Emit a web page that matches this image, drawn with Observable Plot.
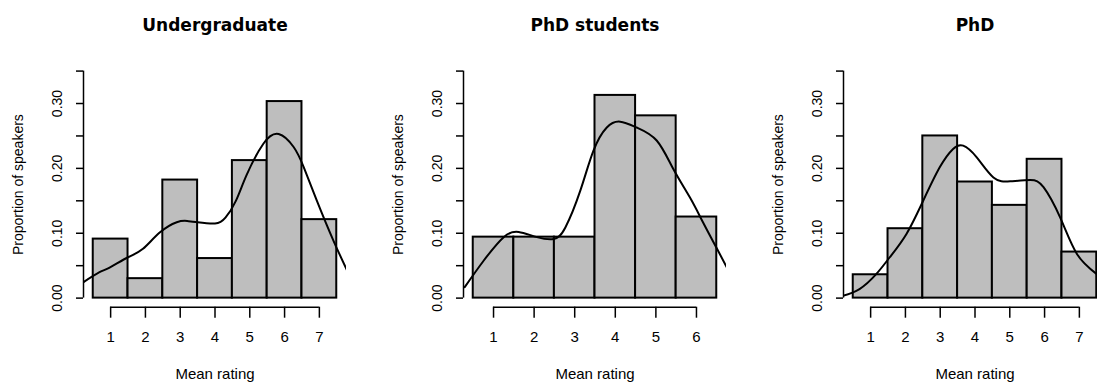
<!DOCTYPE html>
<html><head><meta charset="utf-8">
<script src="https://cdn.jsdelivr.net/npm/d3@7"></script>
<script src="https://cdn.jsdelivr.net/npm/@observablehq/plot@0.6"></script>
<style>
body{margin:0;background:#fff;}
#row{width:1097px;height:383px;overflow:hidden;display:flex;}
#row > div{flex:none;width:380px;height:383px;}
</style></head><body><div id="row"></div>
<script>
// ---- data ----
const titles = ["Undergraduate", "PhD students", "PhD"];

const ratingsUG = [1, 2, 3, 4, 5, 6, 7];
const propsUG = [0.091, 0.030, 0.182, 0.061, 0.212, 0.303, 0.121];
const densXUG = [0.20, 0.68, 0.97, 1.5, 1.93, 2.41, 2.9, 3.2, 3.5, 4.0, 4.3, 4.6, 4.91, 5.39, 5.83, 6.26, 6.55, 6.93, 7.41, 7.82];
const densYUG = [0.024, 0.040, 0.047, 0.063, 0.076, 0.101, 0.117, 0.119, 0.117, 0.115, 0.124, 0.150, 0.190, 0.238, 0.253, 0.233, 0.202, 0.150, 0.088, 0.040];

const ratingsPS = [1, 2, 3, 4, 5, 6];
const propsPS = [0.094, 0.094, 0.094, 0.3125, 0.281, 0.125];
const densXPS = [0.29, 0.76, 1.25, 1.62, 2.07, 2.48, 2.77, 3.14, 3.46, 3.79, 4.12, 4.53, 5.02, 5.43, 5.84, 6.16, 6.49, 6.76];
const densYPS = [0.017, 0.058, 0.094, 0.102, 0.094, 0.091, 0.109, 0.166, 0.227, 0.263, 0.272, 0.263, 0.243, 0.199, 0.155, 0.117, 0.078, 0.046];

const ratingsPhD = [1, 2, 3, 4, 5, 6, 7];
const propsPhD = [0.036, 0.107, 0.250, 0.179, 0.143, 0.214, 0.071];
const densXPhD = [0.2, 0.68, 1.16, 1.55, 2.03, 2.51, 2.99, 3.37, 3.66, 4.05, 4.53, 5.01, 5.59, 5.97, 6.45, 6.93, 7.5];
const densYPhD = [0.0035, 0.014, 0.037, 0.063, 0.099, 0.150, 0.202, 0.230, 0.235, 0.217, 0.186, 0.180, 0.182, 0.171, 0.124, 0.068, 0.037];

const yTicks = [0, 0.05, 0.10, 0.15, 0.20, 0.25, 0.30, 0.35];
const xLabel = "Mean rating";
const yLabel = "Proportion of speakers";

// ---- drawing ----
const FONT = "'Liberation Sans', Arial, sans-serif";

function panel(title, ratings, props, dxs, dys) {
  const bars = ratings.map((r, i) => ({x1: r - 0.5, x2: r + 0.5, y: props[i]}));
  const dens = dxs.map((x, i) => ({x, y: dys[i]}));
  const lo = ratings[0] - 0.5, hi = ratings[ratings.length - 1] + 0.5;
  const xPad = (hi - lo) * 0.04;
  const yLo = yTicks[0], yHi = yTicks[yTicks.length - 1];
  const yPad = (yHi - yLo) * 0.04;
  return Plot.plot({
    width: 380, height: 383,
    marginLeft: 83, marginRight: 34, marginTop: 61.5, marginBottom: 76.3,
    x: {domain: [lo - xPad, hi + xPad]},
    y: {domain: [yLo - yPad, yHi + yPad]},
    style: {fontFamily: FONT, background: "white", color: "black", overflow: "visible"},
    marks: [
      Plot.rectY(bars, {x1: "x1", x2: "x2", y: "y", fill: "#bebebe", stroke: "black", strokeWidth: 2}),
      Plot.line(dens, {x: "x", y: "y", curve: "natural", stroke: "black", strokeWidth: 2, clip: true}),
      Plot.ruleY([{y: yLo - yPad, x1: ratings[0], x2: ratings[ratings.length - 1]}], {y: "y", x1: "x1", x2: "x2", stroke: "black", strokeWidth: 1.5}),
      Plot.ruleX([{x: lo - xPad, y1: yLo, y2: yHi}], {x: "x", y1: "y1", y2: "y2", stroke: "black", strokeWidth: 1.5}),
      Plot.axisX(ratings, {anchor: "bottom", tickSize: 11, tickPadding: 13, strokeWidth: 1.5, fontSize: 15,
        tickFormat: d => String(d), label: null}),
      Plot.axisY(yTicks, {anchor: "left", tickSize: 7, tickPadding: 15, tickRotate: -90, strokeWidth: 1.5, fontSize: 14,
        tickFormat: d => (Math.round(d * 100) % 10 === 0 ? d.toFixed(2) : ""), label: null}),
      Plot.text([xLabel], {frameAnchor: "bottom", dy: 72, fontSize: 15, fill: "black"}),
      Plot.text([yLabel], {frameAnchor: "left", dx: -65, rotate: -90, textAnchor: "middle", fontSize: 14, fill: "black"}),
      Plot.text([title], {frameAnchor: "top", dy: -43, fontWeight: "bold", fontSize: 17, fontFamily: "DejaVu Sans", fill: "black"})
    ]
  });
}

const row = document.getElementById("row");
[[ratingsUG, propsUG, densXUG, densYUG], [ratingsPS, propsPS, densXPS, densYPS], [ratingsPhD, propsPhD, densXPhD, densYPhD]]
  .forEach(([r, p, dx, dy], i) => {
    const d = document.createElement("div");
    d.appendChild(panel(titles[i], r, p, dx, dy));
    row.appendChild(d);
  });
</script>
</body></html>
